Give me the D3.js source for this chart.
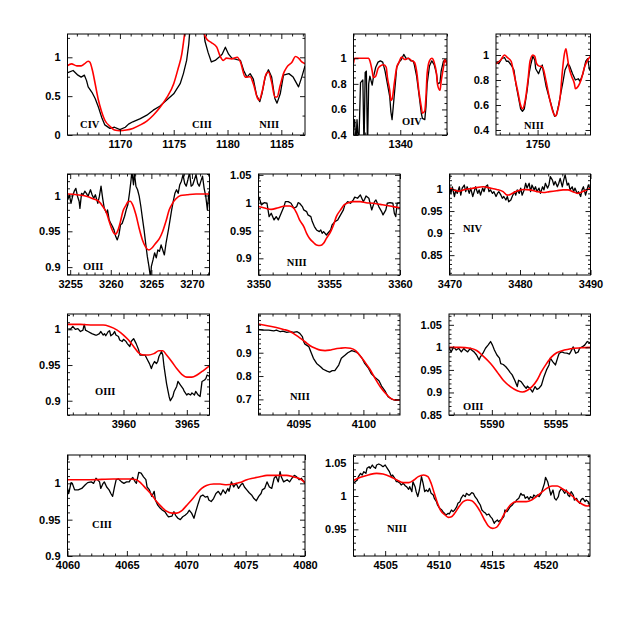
<!DOCTYPE html>
<html><head><meta charset="utf-8">
<script src="https://cdn.jsdelivr.net/npm/d3@7"></script>
<style>body{margin:0;background:#fff}</style></head>
<body><svg id="c" width="623" height="623"></svg>
<script>
// ---------- DATA: [wavelength, normalized flux] ----------
const civObs = [[1165.1,0.80],[1165.65,0.83],[1166.1,0.77],[1166.4,0.745],[1166.7,0.77],[1166.9,0.70],[1167.05,0.62],[1167.4,0.55],[1167.7,0.47],[1168.0,0.36],[1168.3,0.23],[1168.6,0.13],[1169.07,0.085],[1169.5,0.10],[1170,0.07],[1170.5,0.10],[1170.8,0.14],[1171.2,0.17],[1171.9,0.21],[1172.5,0.255],[1173.1,0.32],[1173.7,0.37],[1174.35,0.45],[1175.0,0.53],[1175.6,0.66],[1175.9,0.79],[1176.2,0.96],[1176.4,1.17],[1176.5,1.35],[1176.8,1.6],[1177.4,1.6],[1177.8,1.35],[1177.9,1.21],[1178.2,1.06],[1178.5,0.94],[1178.85,0.96],[1179.2,1.0],[1179.5,1.04],[1179.8,1.13],[1180.1,1.04],[1180.4,0.99],[1180.9,0.97],[1181.2,0.96],[1181.5,0.83],[1181.8,0.745],[1182.1,0.79],[1182.4,0.72],[1182.7,0.51],[1183.0,0.43],[1183.2,0.53],[1183.5,0.745],[1183.8,0.84],[1184.1,0.745],[1184.4,0.47],[1184.6,0.41],[1184.9,0.53],[1185.2,0.77],[1185.7,0.79],[1186.1,0.745],[1186.6,0.62],[1186.9,0.745],[1187.2,0.89]];
const civMod = [[1165.1,0.89],[1165.5,0.915],[1166.0,0.89],[1166.4,0.89],[1166.7,0.915],[1167.05,0.95],[1167.2,0.94],[1167.45,0.83],[1167.7,0.66],[1168.0,0.45],[1168.3,0.30],[1168.6,0.19],[1169.1,0.11],[1169.5,0.064],[1170.0,0.055],[1170.6,0.064],[1171.2,0.085],[1171.9,0.13],[1172.5,0.18],[1173.1,0.255],[1173.7,0.35],[1174.35,0.48],[1175.0,0.66],[1175.4,0.85],[1175.75,1.04],[1176.0,1.29],[1176.3,1.6],[1177.6,1.6],[1177.85,1.3],[1178.1,1.23],[1178.5,1.19],[1179.0,1.13],[1179.3,1.02],[1179.6,0.96],[1179.9,0.99],[1180.4,0.98],[1180.9,1.0],[1181.2,0.94],[1181.65,0.745],[1182.1,0.75],[1182.4,0.66],[1182.8,0.47],[1182.95,0.45],[1183.2,0.55],[1183.6,0.79],[1183.8,0.81],[1184.1,0.68],[1184.4,0.49],[1184.6,0.49],[1184.9,0.64],[1185.2,0.79],[1185.5,0.87],[1186.0,0.94],[1186.3,1.01],[1186.6,0.99],[1186.9,0.94],[1187.3,0.915]];

const oivObs = [[1336.0,0.46],[1336.1,0.52],[1336.2,0.3],[1336.3,0.52],[1336.45,0.3],[1336.6,0.81],[1336.8,0.83],[1336.9,0.3],[1337.0,0.89],[1337.1,0.90],[1337.2,0.3],[1337.3,0.80],[1337.4,0.86],[1337.6,0.79],[1337.7,0.85],[1337.9,0.93],[1338.1,0.97],[1338.3,0.98],[1338.5,0.97],[1338.7,0.90],[1338.9,0.80],[1339.1,0.70],[1339.2,0.58],[1339.3,0.52],[1339.4,0.62],[1339.6,0.825],[1339.7,0.93],[1339.9,0.97],[1340.1,0.99],[1340.3,1.03],[1340.5,1.0],[1340.7,1.0],[1340.9,0.98],[1341.1,0.98],[1341.2,0.95],[1341.4,0.86],[1341.6,0.72],[1341.8,0.57],[1341.9,0.53],[1342.1,0.52],[1342.2,0.62],[1342.3,0.80],[1342.5,0.94],[1342.7,0.98],[1342.9,0.95],[1343.1,0.88],[1343.2,0.80],[1343.4,0.81],[1343.5,0.90],[1343.7,0.98],[1343.8,0.97],[1343.9,0.99],[1344,0.95]];
const oivMod = [[1336.0,0.96],[1336.1,1.0],[1336.4,1.0],[1336.9,1.0],[1337.3,1.0],[1337.4,0.98],[1337.6,0.90],[1337.7,0.85],[1337.9,0.86],[1338.1,0.92],[1338.3,0.94],[1338.6,0.95],[1338.8,0.93],[1338.9,0.85],[1339.1,0.75],[1339.2,0.67],[1339.3,0.68],[1339.5,0.81],[1339.7,0.93],[1339.9,0.97],[1340.1,1.01],[1340.4,0.99],[1340.7,1.0],[1341.0,0.98],[1341.2,0.97],[1341.4,0.90],[1341.6,0.74],[1341.8,0.62],[1341.9,0.57],[1342.1,0.59],[1342.2,0.70],[1342.3,0.88],[1342.5,0.98],[1342.7,1.0],[1342.9,0.97],[1343.1,0.88],[1343.2,0.79],[1343.4,0.75],[1343.5,0.82],[1343.7,0.93],[1343.8,0.99],[1343.9,0.98],[1344,0.95]];

const n1750Obs = [[1745.6,0.94],[1745.9,0.93],[1746.2,0.97],[1746.5,0.98],[1746.7,0.95],[1746.9,0.95],[1747.2,0.92],[1747.5,0.88],[1747.7,0.77],[1748.0,0.65],[1748.2,0.57],[1748.4,0.55],[1748.6,0.57],[1748.9,0.72],[1749.1,0.85],[1749.3,0.93],[1749.5,0.99],[1749.7,0.96],[1749.8,0.89],[1750.1,0.85],[1750.3,0.89],[1750.5,0.92],[1750.6,0.87],[1750.9,0.75],[1751.3,0.64],[1751.6,0.56],[1751.8,0.51],[1752.0,0.52],[1752.2,0.59],[1752.4,0.67],[1752.7,0.79],[1752.9,0.88],[1753.2,0.93],[1753.4,0.91],[1753.7,0.85],[1754.0,0.80],[1754.3,0.81],[1754.5,0.79],[1754.8,0.85],[1755.1,0.95],[1755.3,0.97],[1755.5,0.88],[1755.6,0.89]];
const n1750Mod = [[1745.6,0.93],[1746.1,0.96],[1746.5,1.0],[1746.8,0.98],[1747.2,0.95],[1747.5,0.85],[1747.9,0.71],[1748.2,0.60],[1748.4,0.57],[1748.7,0.64],[1749.0,0.81],[1749.2,0.95],[1749.5,1.0],[1749.7,0.99],[1749.9,0.93],[1750.2,0.91],[1750.4,0.91],[1750.6,0.89],[1750.9,0.79],[1751.3,0.64],[1751.7,0.53],[1751.9,0.51],[1752.1,0.55],[1752.4,0.67],[1752.6,0.85],[1752.8,0.99],[1753.0,1.05],[1753.1,1.01],[1753.3,0.91],[1753.6,0.83],[1753.9,0.77],[1754.0,0.73],[1754.3,0.75],[1754.6,0.80],[1755.0,0.91],[1755.3,0.96],[1755.6,0.99]];

const o3260Obs = [[3254.7,0.994],[3254.9,1.001],[3255.1,0.989],[3255.3,0.999],[3255.5,1.006],[3255.7,1.010],[3255.9,0.999],[3256.1,0.992],[3256.2,0.982],[3256.4,1.003],[3256.6,1.001],[3256.8,1.006],[3257.0,1.003],[3257.2,0.999],[3257.5,1.008],[3257.7,1.001],[3257.9,0.996],[3258.1,1.001],[3258.4,0.989],[3258.6,0.999],[3258.8,1.013],[3259.0,0.996],[3259.2,0.982],[3259.5,0.975],[3259.6,0.980],[3259.8,0.966],[3260.0,0.961],[3260.2,0.957],[3260.4,0.952],[3260.6,0.943],[3260.8,0.938],[3261.0,0.945],[3261.2,0.959],[3261.4,0.961],[3261.7,0.971],[3261.9,0.980],[3262.1,0.987],[3262.3,1.003],[3262.5,1.022],[3262.6,1.034],[3262.8,1.015],[3262.9,1.032],[3263.1,1.013],[3263.3,1.008],[3263.5,0.999],[3263.7,0.985],[3263.9,0.968],[3264.1,0.952],[3264.3,0.933],[3264.5,0.915],[3264.7,0.901],[3264.9,0.885],[3265.0,0.901],[3265.2,0.910],[3265.4,0.920],[3265.6,0.913],[3265.8,0.924],[3266.0,0.922],[3266.2,0.931],[3266.4,0.924],[3266.6,0.917],[3266.8,0.933],[3267.1,0.952],[3267.3,0.966],[3267.5,0.980],[3267.7,0.992],[3267.9,1.003],[3268.1,1.008],[3268.3,1.003],[3268.5,1.015],[3268.7,1.020],[3268.9,1.029],[3269.1,1.017],[3269.3,1.013],[3269.5,1.022],[3269.7,1.032],[3269.9,1.013],[3270.1,1.015],[3270.3,1.022],[3270.5,1.029],[3270.7,1.017],[3270.9,1.013],[3271.1,1.020],[3271.3,1.027],[3271.5,1.010],[3271.7,0.999],[3271.9,0.980],[3272.1,1.006]];
const o3260Mod = [[3254.7,1.002],[3255.8,1.001],[3257.0,0.999],[3257.9,0.995],[3258.5,0.992],[3259.0,0.985],[3259.5,0.975],[3259.8,0.964],[3260.1,0.954],[3260.4,0.947],[3260.6,0.946],[3260.9,0.952],[3261.2,0.964],[3261.5,0.978],[3261.9,0.987],[3262.1,0.991],[3262.4,0.992],[3262.7,0.987],[3263.1,0.973],[3263.5,0.954],[3263.9,0.938],[3264.3,0.928],[3264.7,0.924],[3265.1,0.927],[3265.5,0.933],[3266.0,0.940],[3266.4,0.950],[3266.8,0.964],[3267.2,0.980],[3267.6,0.989],[3268.0,0.995],[3268.6,1.0],[3269.4,1.001],[3270.5,1.002],[3272.2,1.002]];

const n3354Obs = [[3350.0,1.011],[3350.1,1.005],[3350.2,0.996],[3350.4,1.0],[3350.6,0.999],[3350.75,0.975],[3350.9,0.981],[3351.1,0.969],[3351.25,0.975],[3351.4,0.969],[3351.6,0.981],[3351.8,0.993],[3351.9,1.002],[3352.1,1.002],[3352.3,0.999],[3352.5,0.990],[3352.7,0.993],[3352.8,1.0],[3352.9,0.999],[3353.1,0.993],[3353.2,0.987],[3353.4,0.984],[3353.5,0.978],[3353.7,0.975],[3353.8,0.966],[3353.95,0.957],[3354.1,0.951],[3354.3,0.948],[3354.4,0.951],[3354.5,0.945],[3354.6,0.948],[3354.8,0.942],[3354.9,0.945],[3355.1,0.951],[3355.2,0.960],[3355.4,0.966],[3355.6,0.969],[3355.8,0.978],[3356.0,0.987],[3356.1,0.996],[3356.3,1.002],[3356.5,0.999],[3356.7,1.005],[3356.8,1.010],[3357.0,1.008],[3357.2,1.014],[3357.4,1.002],[3357.5,1.006],[3357.6,1.012],[3357.8,1.008],[3358.0,0.987],[3358.2,1.002],[3358.3,1.005],[3358.5,0.993],[3358.7,0.984],[3358.8,0.978],[3359.0,0.987],[3359.1,0.999],[3359.3,1.0],[3359.5,0.999],[3359.6,0.981],[3359.7,0.975],[3359.8,0.999],[3360.0,1.0]];
const n3354Mod = [[3350.0,0.993],[3350.5,0.990],[3350.9,0.988],[3351.4,0.991],[3351.9,0.994],[3352.2,0.994],[3352.5,0.990],[3352.7,0.981],[3352.9,0.969],[3353.2,0.957],[3353.4,0.945],[3353.6,0.936],[3353.9,0.928],[3354.1,0.924],[3354.35,0.923],[3354.6,0.927],[3354.8,0.936],[3355.1,0.948],[3355.3,0.960],[3355.5,0.975],[3355.8,0.987],[3356.05,0.996],[3356.35,1.0],[3356.7,1.002],[3357.2,1.002],[3357.6,1.0],[3358.1,0.999],[3358.6,0.997],[3359.1,0.995],[3359.5,0.993],[3360.0,0.991]];

const n4Obs = [[3470.0,1.009],[3470.2,0.990],[3470.4,1.005],[3470.7,0.983],[3470.9,0.998],[3471.1,0.990],[3471.4,1.005],[3471.6,0.986],[3471.8,1.002],[3472.1,1.009],[3472.3,0.994],[3472.5,1.005],[3472.8,0.990],[3473.0,1.002],[3473.3,0.983],[3473.5,0.994],[3473.7,1.005],[3474.0,0.990],[3474.2,0.998],[3474.4,0.986],[3474.7,1.002],[3474.9,0.994],[3475.1,1.005],[3475.4,1.009],[3475.6,0.994],[3475.8,0.998],[3476.1,0.990],[3476.3,0.994],[3476.6,0.983],[3476.8,0.990],[3477.0,0.994],[3477.3,0.986],[3477.5,0.979],[3477.7,0.983],[3478.0,0.975],[3478.2,0.983],[3478.4,0.971],[3478.7,0.975],[3478.9,0.983],[3479.2,0.994],[3479.4,0.986],[3479.6,0.998],[3479.9,0.990],[3480.1,1.002],[3480.3,0.986],[3480.6,0.998],[3480.8,1.013],[3481.0,1.002],[3481.3,1.013],[3481.5,0.994],[3481.7,1.009],[3482.0,0.998],[3482.2,1.005],[3482.4,0.994],[3482.7,1.002],[3482.9,0.990],[3483.2,1.005],[3483.4,0.998],[3483.6,1.013],[3483.9,1.002],[3484.1,1.009],[3484.3,1.028],[3484.6,1.020],[3484.8,1.009],[3485.0,1.017],[3485.3,1.005],[3485.5,1.013],[3485.7,1.024],[3486.0,1.005],[3486.2,1.020],[3486.4,1.032],[3486.7,1.009],[3486.9,1.013],[3487.1,0.998],[3487.4,1.005],[3487.6,0.994],[3487.8,1.002],[3488.1,0.990],[3488.3,0.994],[3488.6,0.983],[3488.8,0.998],[3489.0,1.005],[3489.3,0.986],[3489.5,0.998],[3489.7,1.009],[3490.0,0.998]];
const n4Mod = [[3470.0,1.002],[3470.6,0.998],[3471.3,0.995],[3472.2,0.999],[3473.4,1.002],[3474.8,1.005],[3475.8,1.002],[3476.7,0.999],[3477.6,0.994],[3478.2,0.986],[3478.8,0.989],[3479.5,0.995],[3480.5,0.999],[3481.4,0.998],[3482.4,0.994],[3483.3,0.992],[3484.2,0.994],[3485.2,0.996],[3486.1,0.998],[3486.8,0.998],[3487.5,0.994],[3488.2,0.990],[3489.0,0.995],[3490.0,1.002]];

const o3961Obs = [[3955.65,1.001],[3955.8,1.0],[3956.0,1.004],[3956.2,1.0],[3956.4,1.001],[3956.6,0.997],[3956.8,0.999],[3956.9,1.007],[3957.0,0.999],[3957.2,0.997],[3957.5,0.994],[3957.8,0.992],[3957.9,0.992],[3958.1,0.994],[3958.2,0.997],[3958.4,0.992],[3958.5,0.994],[3958.6,0.991],[3958.8,0.997],[3958.9,0.998],[3959.0,0.991],[3959.2,0.994],[3959.3,0.997],[3959.4,0.992],[3959.6,0.990],[3959.7,0.985],[3959.9,0.983],[3960.0,0.986],[3960.2,0.983],[3960.3,0.980],[3960.5,0.976],[3960.6,0.983],[3960.8,0.987],[3961.0,0.980],[3961.2,0.971],[3961.3,0.964],[3961.5,0.964],[3961.7,0.964],[3961.9,0.957],[3962.05,0.952],[3962.2,0.945],[3962.3,0.950],[3962.45,0.955],[3962.6,0.952],[3962.7,0.955],[3962.8,0.962],[3963.0,0.969],[3963.1,0.964],[3963.2,0.948],[3963.4,0.924],[3963.5,0.915],[3963.6,0.906],[3963.7,0.900],[3963.9,0.906],[3964.0,0.913],[3964.2,0.920],[3964.3,0.927],[3964.5,0.922],[3964.7,0.917],[3964.8,0.913],[3965.0,0.908],[3965.1,0.910],[3965.3,0.908],[3965.4,0.911],[3965.6,0.908],[3965.7,0.913],[3965.9,0.908],[3966.05,0.906],[3966.2,0.927],[3966.4,0.929],[3966.5,0.931],[3966.6,0.936],[3966.8,0.934]];
const o3961Mod = [[3955.6,1.007],[3956.6,1.007],[3957.6,1.006],[3958.4,1.006],[3958.9,1.004],[3959.5,0.999],[3960.0,0.992],[3960.4,0.985],[3960.8,0.976],[3961.2,0.967],[3961.6,0.964],[3962.0,0.964],[3962.4,0.966],[3962.8,0.970],[3963.1,0.970],[3963.4,0.964],[3963.8,0.955],[3964.2,0.945],[3964.6,0.937],[3965.0,0.933],[3965.4,0.933],[3965.8,0.936],[3966.2,0.941],[3966.5,0.945],[3966.8,0.949]];

const n4097Obs = [[4091.9,1.0],[4092.3,0.997],[4092.7,0.997],[4093.1,0.994],[4093.3,0.997],[4093.6,0.99],[4093.8,0.993],[4094.1,0.987],[4094.4,0.99],[4094.6,0.987],[4094.9,0.99],[4095.1,0.983],[4095.3,0.969],[4095.4,0.947],[4095.5,0.937],[4095.8,0.926],[4095.95,0.904],[4096.15,0.876],[4096.4,0.854],[4096.7,0.84],[4096.9,0.829],[4097.2,0.821],[4097.4,0.817],[4097.6,0.823],[4097.8,0.823],[4098.1,0.847],[4098.3,0.876],[4098.6,0.89],[4098.8,0.90],[4099.1,0.909],[4099.4,0.904],[4099.6,0.897],[4099.9,0.876],[4100.1,0.854],[4100.4,0.833],[4100.6,0.811],[4100.9,0.794],[4101.2,0.78],[4101.4,0.757],[4101.7,0.733],[4101.9,0.711],[4102.2,0.701],[4102.4,0.697],[4102.8,0.697]];
const n4097Mod = [[4091.9,1.023],[4092.6,1.016],[4093.2,1.009],[4093.85,1.0],[4094.4,0.99],[4094.7,0.979],[4095.1,0.964],[4095.5,0.947],[4095.9,0.93],[4096.3,0.919],[4096.7,0.911],[4097.05,0.909],[4097.4,0.911],[4097.8,0.916],[4098.2,0.919],[4098.6,0.921],[4099.0,0.919],[4099.4,0.909],[4099.7,0.89],[4100.1,0.861],[4100.5,0.829],[4100.9,0.79],[4101.3,0.754],[4101.7,0.726],[4102.1,0.704],[4102.5,0.697],[4102.8,0.697]];

const o5592Obs = [[5586.6,1.0],[5586.8,0.99],[5587.0,1.001],[5587.2,0.994],[5587.4,0.998],[5587.6,0.99],[5587.8,0.998],[5587.9,0.994],[5588.1,0.99],[5588.3,0.998],[5588.4,0.994],[5588.6,0.99],[5588.8,0.983],[5589.0,0.972],[5589.1,0.979],[5589.3,0.987],[5589.5,0.998],[5589.7,1.005],[5589.9,1.013],[5590.05,1.005],[5590.2,0.994],[5590.4,0.983],[5590.6,0.976],[5590.7,0.964],[5590.9,0.962],[5591.1,0.957],[5591.3,0.95],[5591.45,0.944],[5591.6,0.939],[5591.8,0.927],[5592.0,0.913],[5592.1,0.927],[5592.3,0.924],[5592.5,0.916],[5592.7,0.909],[5592.8,0.914],[5593.0,0.909],[5593.2,0.901],[5593.4,0.913],[5593.55,0.907],[5593.7,0.909],[5593.9,0.916],[5594.1,0.935],[5594.3,0.95],[5594.5,0.961],[5594.6,0.976],[5594.8,0.968],[5595.0,0.961],[5595.2,0.979],[5595.3,0.987],[5595.5,0.99],[5595.7,0.988],[5595.9,0.987],[5596.1,0.985],[5596.2,0.99],[5596.4,1.001],[5596.6,0.987],[5596.8,0.99],[5596.9,0.998],[5597.1,1.001],[5597.3,1.005],[5597.5,1.013],[5597.8,1.009]];
const o5592Mod = [[5586.6,1.0],[5587.5,1.0],[5588.3,0.998],[5588.8,0.993],[5589.3,0.981],[5589.9,0.964],[5590.4,0.946],[5590.9,0.927],[5591.45,0.913],[5592.0,0.904],[5592.4,0.901],[5592.8,0.905],[5593.2,0.914],[5593.55,0.927],[5593.9,0.946],[5594.3,0.964],[5594.7,0.979],[5595.1,0.988],[5595.7,0.994],[5596.2,0.997],[5597.0,0.999],[5597.8,1.0]];

const c4068Obs = [[4060.0,0.993],[4060.1,0.986],[4060.3,1.001],[4060.4,1.0],[4060.6,0.991],[4060.9,0.991],[4061.2,0.993],[4061.5,0.998],[4061.7,1.001],[4062.0,1.002],[4062.2,1.0],[4062.4,1.007],[4062.7,1.002],[4062.8,0.993],[4063.0,1.0],[4063.1,1.002],[4063.3,0.995],[4063.5,0.991],[4063.65,0.986],[4063.8,0.982],[4063.96,0.995],[4064.1,1.005],[4064.3,1.006],[4064.55,1.002],[4064.75,1.0],[4064.97,1.002],[4065.2,1.002],[4065.3,1.005],[4065.5,1.008],[4065.7,1.002],[4065.8,1.0],[4066.0,1.015],[4066.2,1.014],[4066.4,1.009],[4066.6,1.005],[4066.7,0.995],[4066.9,0.991],[4067.1,0.982],[4067.3,0.989],[4067.4,0.977],[4067.6,0.970],[4067.8,0.966],[4068.0,0.963],[4068.2,0.961],[4068.4,0.956],[4068.5,0.954],[4068.8,0.955],[4068.96,0.961],[4069.1,0.956],[4069.3,0.952],[4069.5,0.95],[4069.7,0.954],[4069.9,0.956],[4070.1,0.959],[4070.25,0.963],[4070.45,0.959],[4070.65,0.952],[4070.8,0.961],[4071.0,0.972],[4071.2,0.982],[4071.4,0.984],[4071.6,0.981],[4071.8,0.982],[4071.9,0.977],[4072.1,0.975],[4072.3,0.979],[4072.5,0.986],[4072.7,0.989],[4072.9,0.984],[4073.1,0.991],[4073.3,0.986],[4073.5,0.993],[4073.6,0.989],[4073.8,1.002],[4074.0,0.995],[4074.2,1.0],[4074.4,0.993],[4074.6,0.998],[4074.75,1.0],[4074.9,0.995],[4075.1,0.991],[4075.3,0.987],[4075.5,0.984],[4075.7,0.979],[4075.9,0.976],[4076.1,0.982],[4076.3,0.986],[4076.4,0.991],[4076.6,0.993],[4076.8,1.002],[4077.0,0.995],[4077.2,0.993],[4077.4,1.007],[4077.55,1.01],[4077.75,1.002],[4077.9,1.016],[4078.0,1.009],[4078.2,1.002],[4078.5,1.005],[4078.7,1.002],[4078.9,1.007],[4079.1,1.011],[4079.3,1.009],[4079.5,1.005],[4079.7,1.007],[4080.0,1.0]];
const c4068Mod = [[4060.0,1.005],[4061.9,1.005],[4063.85,1.006],[4065.25,1.006],[4065.8,1.005],[4066.2,1.0],[4066.6,0.993],[4067.1,0.984],[4067.5,0.975],[4067.9,0.968],[4068.3,0.962],[4068.8,0.959],[4069.2,0.959],[4069.6,0.962],[4070.0,0.969],[4070.45,0.977],[4070.9,0.986],[4071.3,0.993],[4071.7,0.997],[4072.3,0.999],[4072.85,0.999],[4073.4,0.998],[4074.0,0.999],[4074.5,1.001],[4075.1,1.005],[4075.6,1.007],[4076.2,1.009],[4076.8,1.011],[4077.3,1.011],[4077.9,1.011],[4078.45,1.011],[4079.0,1.009],[4079.6,1.006],[4080.0,1.001]];

const n4515Obs = [[4502.0,1.019],[4502.2,1.0215],[4502.4,1.024],[4502.5,1.029],[4502.7,1.034],[4502.85,1.0315],[4503.0,1.0365],[4503.2,1.034],[4503.3,1.0415],[4503.5,1.044],[4503.6,1.0415],[4503.8,1.0465],[4503.9,1.044],[4504.1,1.0415],[4504.2,1.0465],[4504.4,1.048],[4504.6,1.0465],[4504.8,1.044],[4505.0,1.0465],[4505.2,1.0415],[4505.4,1.0365],[4505.6,1.029],[4505.7,1.0315],[4505.9,1.0265],[4506.05,1.0215],[4506.2,1.0215],[4506.4,1.019],[4506.5,1.0165],[4506.7,1.019],[4506.9,1.015],[4507.0,1.014],[4507.2,1.01],[4507.3,1.014],[4507.5,1.0065],[4507.6,1.0215],[4507.8,1.014],[4507.9,1.0065],[4508.05,0.999],[4508.2,1.009],[4508.3,1.019],[4508.4,1.029],[4508.55,1.019],[4508.7,1.0065],[4508.85,1.009],[4509.0,1.0065],[4509.15,1.0115],[4509.3,1.004],[4509.5,1.0015],[4509.6,0.9965],[4509.8,0.9915],[4509.9,0.9865],[4510.1,0.9815],[4510.3,0.979],[4510.4,0.9765],[4510.6,0.973],[4510.7,0.9715],[4510.9,0.974],[4511.0,0.973],[4511.2,0.979],[4511.35,0.9765],[4511.5,0.979],[4511.7,0.984],[4511.8,0.989],[4512.0,0.9915],[4512.1,0.9965],[4512.3,1.0015],[4512.5,0.999],[4512.6,1.004],[4512.8,1.0015],[4512.9,1.0015],[4513.1,1.005],[4513.25,1.004],[4513.4,0.999],[4513.6,0.995],[4513.7,0.9915],[4513.9,0.9865],[4514.05,0.979],[4514.2,0.9765],[4514.4,0.974],[4514.5,0.9715],[4514.7,0.973],[4514.85,0.969],[4515.0,0.9665],[4515.2,0.959],[4515.3,0.9615],[4515.5,0.964],[4515.6,0.9615],[4515.8,0.964],[4515.9,0.965],[4516.1,0.969],[4516.2,0.979],[4516.4,0.9765],[4516.6,0.9815],[4516.7,0.984],[4516.9,0.9865],[4517.0,0.989],[4517.2,0.9915],[4517.3,0.994],[4517.5,0.9965],[4517.7,1.004],[4517.8,1.0015],[4518.0,1.0015],[4518.1,0.9965],[4518.3,0.999],[4518.45,0.995],[4518.6,0.999],[4518.8,0.9965],[4518.9,1.0015],[4519.1,0.999],[4519.25,1.0015],[4519.4,0.999],[4519.6,1.004],[4519.7,1.009],[4519.9,1.019],[4520.0,1.028],[4520.2,1.0215],[4520.35,1.0115],[4520.5,1.0015],[4520.7,1.009],[4520.85,0.9965],[4521.0,0.994],[4521.2,0.999],[4521.3,1.0065],[4521.5,1.0115],[4521.6,1.009],[4521.8,1.004],[4521.95,1.009],[4522.1,1.0015],[4522.25,0.999],[4522.4,1.0065],[4522.6,1.0015],[4522.7,0.994],[4522.9,0.9965],[4523.05,0.9915],[4523.2,0.989],[4523.35,0.995],[4523.5,0.9965],[4523.7,0.9915],[4523.8,0.994],[4524.0,0.9915],[4524.16,0.984]];
const n4515Mod = [[4502.0,1.023],[4502.7,1.028],[4503.5,1.032],[4504.2,1.034],[4504.8,1.033],[4505.5,1.029],[4506.1,1.024],[4506.7,1.02],[4507.2,1.02],[4507.7,1.024],[4508.1,1.029],[4508.6,1.0315],[4509.0,1.029],[4509.3,1.019],[4509.6,1.004],[4509.9,0.989],[4510.2,0.978],[4510.6,0.9715],[4510.9,0.968],[4511.2,0.969],[4511.5,0.974],[4511.9,0.984],[4512.3,0.9915],[4512.7,0.994],[4513.1,0.993],[4513.5,0.9865],[4513.9,0.9765],[4514.3,0.964],[4514.65,0.955],[4515.05,0.9515],[4515.4,0.953],[4515.7,0.959],[4516.0,0.969],[4516.4,0.98],[4516.8,0.988],[4517.25,0.9915],[4517.7,0.9915],[4518.2,0.9915],[4518.7,0.994],[4519.15,0.999],[4519.6,1.005],[4520.1,1.0115],[4520.6,1.015],[4521.1,1.015],[4521.5,1.0115],[4522.0,1.0065],[4522.5,1.0],[4522.95,0.993],[4523.4,0.988],[4523.9,0.985],[4524.16,0.9865]];

// tick values per panel
const p1XTicks = [1170,1175,1180,1185], p1YTicks = [0,0.5,1];
const p2XTicks = [1340], p2YTicks = [0.4,0.6,0.8,1];
const p3XTicks = [1750], p3YTicks = [0.4,0.6,0.8,1];
const p4XTicks = [3255,3260,3265,3270], p4YTicks = [0.9,0.95,1];
const p5XTicks = [3350,3355,3360], p5YTicks = [0.9,0.95,1,1.05];
const p6XTicks = [3470,3480,3490], p6YTicks = [0.85,0.9,0.95,1];
const p7XTicks = [3960,3965], p7YTicks = [0.9,0.95,1];
const p8XTicks = [4095,4100], p8YTicks = [0.7,0.8,0.9,1];
const p9XTicks = [5590,5595], p9YTicks = [0.85,0.9,0.95,1,1.05];
const p10XTicks = [4060,4065,4070,4075,4080], p10YTicks = [0.9,0.95,1];
const p11XTicks = [4505,4510,4515,4520], p11YTicks = [0.95,1,1.05];

// ---------- LAYOUT ----------
const panels = [
 {box:[67.5,305,34,135], xd:[1165.13,1187.2], yd:[0,1.3], xt:p1XTicks, xm:1, yt:p1YTicks, ym:0.25, obs:civObs, mod:civMod,
  labels:[["CIV",1166.3,0.086],["CIII",1176.7,0.086],["NIII",1182.95,0.086]]},
 {box:[353.5,447,34,135], xd:[1336,1344], yd:[0.4,1.19], xt:p2XTicks, xm:1, yt:p2YTicks, ym:0.05, obs:oivObs, mod:oivMod, labels:[["OIV",1340.15,0.48]]},
 {box:[496,590.5,34,135], xd:[1745.6,1755.6], yd:[0.36,1.168], xt:p3XTicks, xm:1, yt:p3YTicks, ym:0.05, obs:n1750Obs, mod:n1750Mod, labels:[["NIII",1748.56,0.408]]},
 {box:[67.5,209.5,174,275], xd:[3254.67,3272.16], yd:[0.889,1.03], xt:p4XTicks, xm:1, yt:p4YTicks, ym:0.01, obs:o3260Obs, mod:o3260Mod, labels:[["OIII",3256.57,0.896]]},
 {box:[258.5,400,174,275], xd:[3350,3360], yd:[0.87,1.0516], xt:p5XTicks, xm:1, yt:p5YTicks, ym:0.01, obs:n3354Obs, mod:n3354Mod, labels:[["NIII",3352.0,0.886]]},
 {box:[449.5,590.5,174,275], xd:[3470,3490], yd:[0.805,1.034], xt:p6XTicks, xm:2, yt:p6YTicks, ym:0.01, obs:n4Obs, mod:n4Mod, labels:[["NIV",3471.9,0.903]]},
 {box:[67.5,209.5,314,415], xd:[3955.58,3966.79], yd:[0.88,1.0215], xt:p7XTicks, xm:1, yt:p7YTicks, ym:0.01, obs:o3961Obs, mod:o3961Mod, labels:[["OIII",3957.75,0.908]]},
 {box:[258.5,400,314,415], xd:[4091.92,4102.82], yd:[0.633,1.066], xt:p8XTicks, xm:1, yt:p8YTicks, ym:0.02, obs:n4097Obs, mod:n4097Mod, labels:[["NIII",4094.34,0.697]]},
 {box:[449,590.5,314,415], xd:[5586.63,5597.76], yd:[0.85,1.074], xt:p9XTicks, xm:1, yt:p9YTicks, ym:0.01, obs:o5592Obs, mod:o5592Mod, labels:[["OIII",5587.73,0.861]]},
 {box:[67.5,305,455,556], xd:[4060,4080], yd:[0.9,1.039], xt:p10XTicks, xm:1, yt:p10YTicks, ym:0.01, obs:c4068Obs, mod:c4068Mod, labels:[["CIII",4062.07,0.9385]]},
 {box:[353.5,590,455,556], xd:[4502.04,4524.16], yd:[0.91,1.0615], xt:p11XTicks, xm:1, yt:p11YTicks, ym:0.01, obs:n4515Obs, mod:n4515Mod, labels:[["NIII",4505.17,0.946]]}
];

const svg = d3.select('#c');
const fmt = v => String(+v.toFixed(3));
function minors(dom, step, majors){
  const out=[]; const a=Math.ceil(dom[0]/step-1e-9), b=Math.floor(dom[1]/step+1e-9);
  for(let k=a;k<=b;k++){const v=+(k*step).toFixed(6); if(!majors.some(m=>Math.abs(m-v)<1e-6)) out.push(v);}
  return out;
}
panels.forEach((p,i)=>{
  const [x0,x1,y0,y1]=p.box;
  const x=d3.scaleLinear().domain(p.xd).range([x0,x1]);
  const y=d3.scaleLinear().domain(p.yd).range([y1,y0]);
  const cid='clip'+i;
  svg.append('clipPath').attr('id',cid).append('rect').attr('x',x0).attr('y',y0).attr('width',x1-x0).attr('height',y1-y0);
  const g=svg.append('g');
  const line=d3.line().x(d=>x(d[0])).y(d=>y(d[1]));
  g.append('path').datum(p.obs).attr('d',line).attr('fill','none').attr('stroke','#000').attr('stroke-width',1.3).attr('stroke-linejoin','round').attr('clip-path',`url(#${cid})`);
  g.append('path').datum(p.mod).attr('d',d3.line().x(d=>x(d[0])).y(d=>y(d[1])).curve(d3.curveMonotoneX)).attr('fill','none').attr('stroke','#ff0000').attr('stroke-width',1.6).attr('clip-path',`url(#${cid})`);
  const xmin=minors(p.xd,p.xm,p.xt), ymin=minors(p.yd,p.ym,p.yt);
  const axes=[
    [d3.axisBottom(x).tickValues(p.xt).tickSize(-5).tickPadding(5).tickFormat(d3.format('d')), y1, 0],
    [d3.axisBottom(x).tickValues(xmin).tickSize(-2.5).tickFormat(''), y1, 0],
    [d3.axisTop(x).tickValues(p.xt).tickSize(-5).tickFormat(''), y0, 0],
    [d3.axisTop(x).tickValues(xmin).tickSize(-2.5).tickFormat(''), y0, 0],
    [d3.axisLeft(y).tickValues(p.yt).tickSize(-5).tickPadding(7).tickFormat(fmt), 0, x0],
    [d3.axisLeft(y).tickValues(ymin).tickSize(-2.5).tickFormat(''), 0, x0],
    [d3.axisRight(y).tickValues(p.yt).tickSize(-5).tickFormat(''), 0, x1],
    [d3.axisRight(y).tickValues(ymin).tickSize(-2.5).tickFormat(''), 0, x1]
  ];
  axes.forEach(([ax,ty,tx])=>{
    const a=g.append('g').attr('transform',`translate(${tx},${ty})`).call(ax);
    a.select('.domain').remove();
    a.selectAll('line').attr('stroke','#000').attr('stroke-width',0.9);
    a.selectAll('text').attr('font-family','"Liberation Sans", Arial, sans-serif').attr('font-size',11).attr('font-weight','bold').attr('fill','#000');
  });
  g.append('rect').attr('x',x0).attr('y',y0).attr('width',x1-x0).attr('height',y1-y0).attr('fill','none').attr('stroke','#000').attr('stroke-width',1);
  p.labels.forEach(([t,lx,ly])=>{
    g.append('text').attr('x',x(lx)).attr('y',y(ly)).text(t).attr('font-family','"Liberation Serif", "DejaVu Serif", serif').attr('font-weight','bold').attr('font-size',10.5).attr('fill','#000');
  });
});
</script></body></html>
